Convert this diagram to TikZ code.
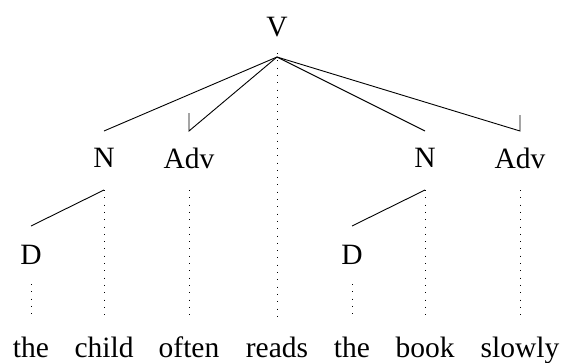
\documentclass[tikz,border=0pt]{standalone}
\usepackage{fontspec}
\setmainfont{Liberation Serif}
\begin{document}
\begin{tikzpicture}[x=1pt,y=-1pt,
  lbl/.style={inner sep=0pt,font=\fontsize{29.5}{31}\selectfont},
  wrd/.style={inner sep=0pt,anchor=base,font=\fontsize{29.5}{31}\selectfont},
  edge/.style={line width=0.9pt},
  proj/.style={line width=1pt,dash pattern=on 1pt off 6.3pt}]
\useasboundingbox (0,0) rectangle (563,362);
% labels
\node[lbl] (V) at (277,27) {V};
\node[lbl] (N1) at (104,158) {N};
\node[lbl] (A1) at (189,158) {Adv};
\node[lbl] (N2) at (425,158) {N};
\node[lbl] (A2) at (520,158) {Adv};
\node[lbl] (D1) at (31,255) {D};
\node[lbl] (D2) at (352,255) {D};
% words
\node[wrd] (w1) at (31,357) {the};
\node[wrd] (w2) at (104,357) {child};
\node[wrd] (w3) at (189,357) {often};
\node[wrd] (w4) at (277,357) {reads};
\node[wrd] (w5) at (352,357) {the};
\node[wrd] (w6) at (425,357) {book};
\node[wrd] (w7) at (520,357) {slowly};
% anchor points
\coordinate (Vb) at (277,57);
\coordinate (N1t) at (104,131);
\coordinate (A1t) at (189,131);
\coordinate (A1u) at (189,113);
\coordinate (N2t) at (425,131);
\coordinate (A2t) at (520,131);
\coordinate (A2u) at (520,115);
\coordinate (N1b) at (104,190);
\coordinate (A1b) at (189,190);
\coordinate (N2b) at (425,190);
\coordinate (A2b) at (520,190);
\coordinate (D1t) at (31,226);
\coordinate (D2t) at (352,226);
\coordinate (D1b) at (31,284);
\coordinate (D2b) at (352,284);
\coordinate (w1t) at (31,318);
\coordinate (w2t) at (104,318);
\coordinate (w3t) at (189,318);
\coordinate (w4t) at (277,318);
\coordinate (w5t) at (352,318);
\coordinate (w6t) at (425,318);
\coordinate (w7t) at (520,318);
% dependency edges
\draw[edge] (Vb) -- (N1t);
\draw[edge] (Vb) -- (A1t) -- (A1u);
\draw[edge] (Vb) -- (N2t);
\draw[edge] (Vb) -- (A2t) -- (A2u);
\draw[edge] (N1b) -- (D1t);
\draw[edge] (N2b) -- (D2t);
% projection lines
\draw[proj] ([yshift=4pt]Vb) -- (w4t);
\draw[proj] (N1b) -- (w2t);
\draw[proj] (A1b) -- (w3t);
\draw[proj] (N2b) -- (w6t);
\draw[proj] (A2b) -- (w7t);
\draw[proj] (D1b) -- (w1t);
\draw[proj] (D2b) -- (w5t);
\end{tikzpicture}
\end{document}
